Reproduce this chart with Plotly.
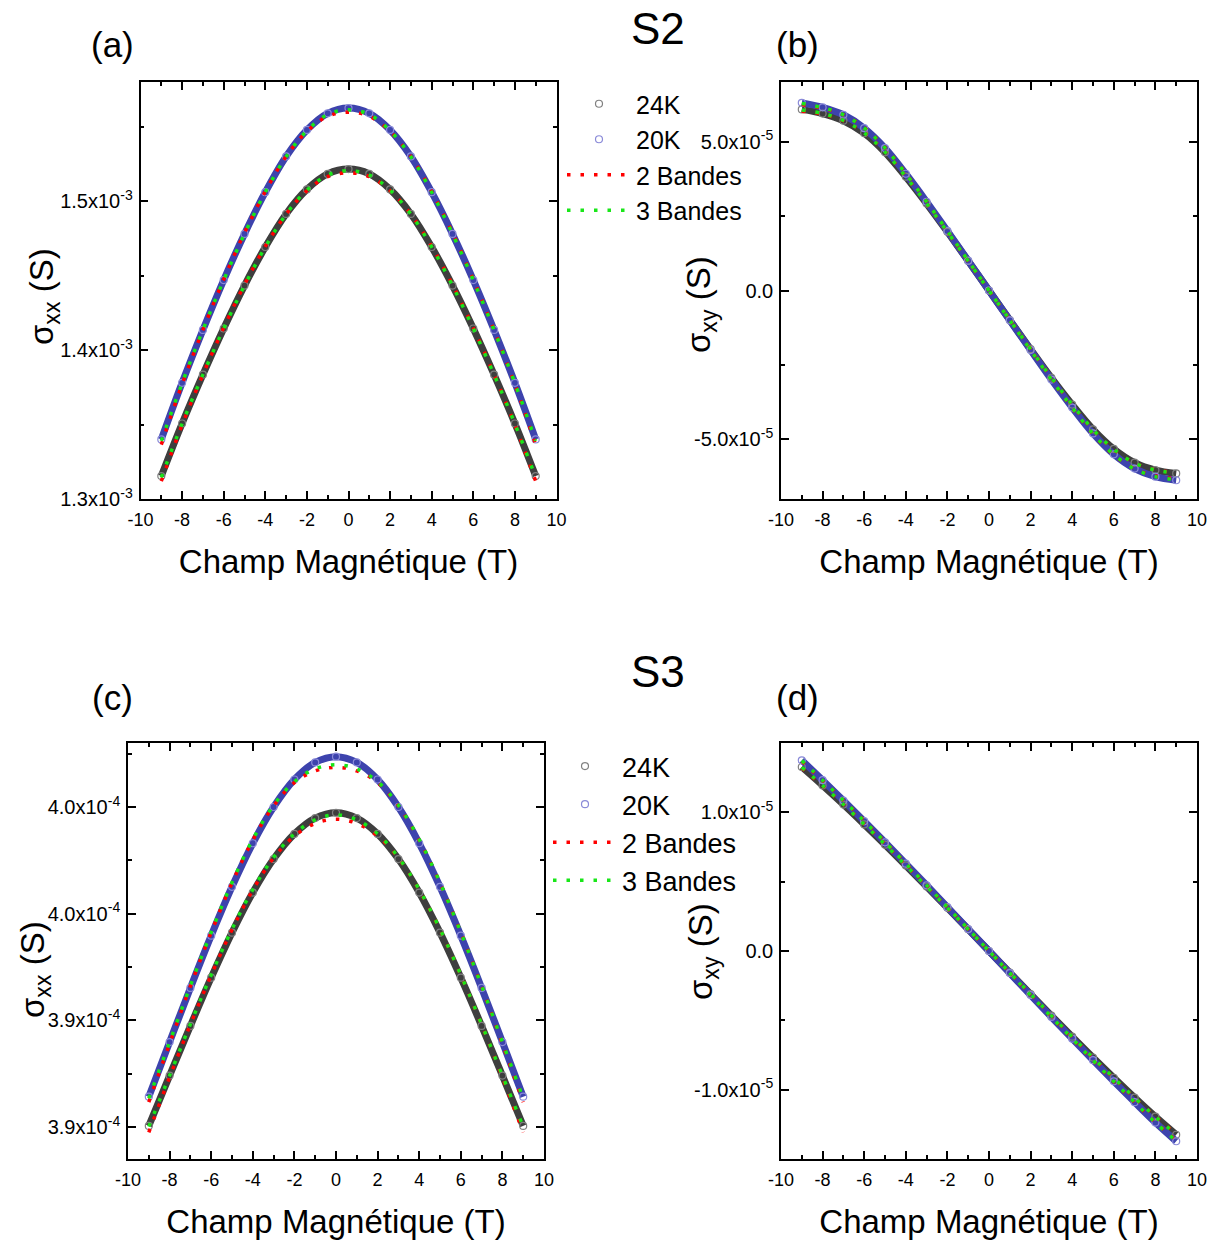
import plotly.graph_objects as go

W, H = 1217, 1243

# ---------------- data ----------------
B = [-9, -8, -7, -6, -5, -4, -3, -2, -1, 0, 1, 2, 3, 4, 5, 6, 7, 8, 9]

# S2 : sigma_xx (units of 1e-3 S)
s2xx_24K = [1.3154, 1.3507, 1.3835, 1.4145, 1.4433, 1.4692, 1.4914, 1.5079, 1.5183, 1.5215,
            1.5183, 1.5079, 1.4914, 1.4692, 1.4433, 1.4145, 1.3835, 1.3507, 1.3154]
s2xx_20K = [1.3400, 1.3780, 1.4135, 1.4470, 1.4780, 1.5060, 1.5300, 1.5478, 1.5590, 1.5625,
            1.5590, 1.5478, 1.5300, 1.5060, 1.4780, 1.4470, 1.4135, 1.3780, 1.3400]
s2xx_24K_2b = [1.3120, 1.3497, 1.3835, 1.4150, 1.4440, 1.4696, 1.4912, 1.5070, 1.5165, 1.5190,
               1.5165, 1.5070, 1.4912, 1.4696, 1.4440, 1.4150, 1.3835, 1.3497, 1.3120]
s2xx_20K_2b = [1.3365, 1.3770, 1.4135, 1.4475, 1.4788, 1.5065, 1.5300, 1.5468, 1.5570, 1.5597,
               1.5570, 1.5468, 1.5300, 1.5065, 1.4788, 1.4475, 1.4135, 1.3770, 1.3365]
s2xx_24K_3b = [1.3146, 1.3505, 1.3835, 1.4145, 1.4433, 1.4692, 1.4912, 1.5074, 1.5175, 1.5205,
               1.5175, 1.5074, 1.4912, 1.4692, 1.4433, 1.4145, 1.3835, 1.3505, 1.3146]
s2xx_20K_3b = [1.3390, 1.3778, 1.4135, 1.4470, 1.4780, 1.5060, 1.5298, 1.5473, 1.5582, 1.5613,
               1.5582, 1.5473, 1.5298, 1.5060, 1.4780, 1.4470, 1.4135, 1.3778, 1.3390]

# S2 : sigma_xy (units of 1e-5 S)
s2xy_24K = [6.08, 5.94, 5.70, 5.28, 4.64, 3.82, 2.92, 1.97, 0.99, 0.0,
            -0.99, -1.97, -2.93, -3.83, -4.66, -5.32, -5.78, -6.03, -6.14]
s2xy_20K = [6.30, 6.15, 5.90, 5.45, 4.78, 3.92, 2.98, 2.00, 1.00, 0.0,
            -1.00, -2.00, -2.99, -3.93, -4.80, -5.50, -5.98, -6.25, -6.37]
s2xy_24K_2b = [6.02, 5.92, 5.70, 5.30, 4.66, 3.83, 2.92, 1.96, 0.98, 0.0,
               -0.98, -1.96, -2.93, -3.84, -4.68, -5.34, -5.79, -6.02, -6.10]
s2xy_20K_2b = [6.24, 6.12, 5.90, 5.47, 4.80, 3.93, 2.98, 1.99, 0.99, 0.0,
               -0.99, -1.99, -2.99, -3.94, -4.82, -5.52, -5.99, -6.23, -6.32]
s2xy_24K_3b = [6.06, 5.94, 5.71, 5.29, 4.65, 3.82, 2.92, 1.97, 0.99, 0.0,
               -0.99, -1.97, -2.93, -3.83, -4.67, -5.33, -5.79, -6.03, -6.13]
s2xy_20K_3b = [6.28, 6.14, 5.90, 5.46, 4.79, 3.92, 2.98, 2.00, 1.00, 0.0,
               -1.00, -2.00, -2.99, -3.93, -4.81, -5.51, -5.99, -6.25, -6.35]

# S3 : sigma_xx (units of 1e-4 S)
s3xx_24K = [3.9005, 3.9241, 3.9474, 3.9700, 3.9911, 4.0099, 4.0256, 4.0374, 4.0448, 4.0473,
            4.0448, 4.0374, 4.0256, 4.0099, 3.9911, 3.9700, 3.9474, 3.9241, 3.9005]
s3xx_20K = [3.9142, 3.9398, 3.9652, 3.9897, 4.0126, 4.0330, 4.0500, 4.0629, 4.0709, 4.0736,
            4.0709, 4.0629, 4.0500, 4.0330, 4.0126, 3.9897, 3.9652, 3.9398, 3.9142]
s3xx_24K_2b = [3.8975, 3.9233, 3.9480, 3.9712, 3.9925, 4.0111, 4.0261, 4.0364, 4.0423, 4.0443,
               4.0423, 4.0364, 4.0261, 4.0111, 3.9925, 3.9712, 3.9480, 3.9233, 3.8975]
s3xx_20K_2b = [3.9117, 3.9390, 3.9660, 3.9912, 4.0144, 4.0345, 4.0505, 4.0614, 4.0669, 4.0686,
               4.0669, 4.0614, 4.0505, 4.0345, 4.0144, 3.9912, 3.9660, 3.9390, 3.9117]
s3xx_24K_3b = [3.9002, 3.9241, 3.9482, 3.9713, 3.9927, 4.0113, 4.0264, 4.0374, 4.0440, 4.0463,
               4.0440, 4.0374, 4.0264, 4.0113, 3.9927, 3.9713, 3.9482, 3.9241, 3.9002]
s3xx_20K_3b = [3.9134, 3.9398, 3.9662, 3.9913, 4.0146, 4.0348, 4.0508, 4.0619, 4.0679, 4.0698,
               4.0679, 4.0619, 4.0508, 4.0348, 4.0146, 3.9913, 3.9662, 3.9398, 3.9134]

# S3 : sigma_xy (units of 1e-5 S)
s3xy_24K = [1.327, 1.194, 1.056, 0.913, 0.767, 0.617, 0.465, 0.311, 0.156, 0.0,
            -0.156, -0.311, -0.466, -0.618, -0.768, -0.914, -1.057, -1.195, -1.325]
s3xy_20K = [1.375, 1.232, 1.085, 0.936, 0.784, 0.630, 0.474, 0.316, 0.158, 0.0,
            -0.159, -0.318, -0.476, -0.632, -0.787, -0.940, -1.090, -1.237, -1.372]
s3xy_24K_2b = [1.320, 1.192, 1.058, 0.916, 0.769, 0.618, 0.465, 0.311, 0.156, 0.0,
               -0.156, -0.311, -0.466, -0.619, -0.770, -0.917, -1.059, -1.193, -1.318]
s3xy_20K_2b = [1.368, 1.230, 1.087, 0.939, 0.786, 0.631, 0.474, 0.316, 0.158, 0.0,
               -0.159, -0.318, -0.476, -0.633, -0.789, -0.943, -1.092, -1.235, -1.365]
s3xy_24K_3b = [1.325, 1.194, 1.057, 0.914, 0.768, 0.617, 0.465, 0.311, 0.156, 0.0,
               -0.156, -0.311, -0.466, -0.618, -0.769, -0.915, -1.058, -1.195, -1.323]
s3xy_20K_3b = [1.373, 1.232, 1.086, 0.937, 0.785, 0.630, 0.474, 0.316, 0.158, 0.0,
               -0.159, -0.318, -0.476, -0.632, -0.788, -0.941, -1.091, -1.237, -1.370]

# tick labels
x_ticks = [-10, -8, -6, -4, -2, 0, 2, 4, 6, 8, 10]
x_ticktext = ["-10", "-8", "-6", "-4", "-2", "0", "2", "4", "6", "8", "10"]
a_tickvals = [1.3e-3, 1.4e-3, 1.5e-3]
a_ticktext = ["1.3x10<sup>-3</sup>", "1.4x10<sup>-3</sup>", "1.5x10<sup>-3</sup>"]
b_tickvals = [-5e-5, 0.0, 5e-5]
b_ticktext = ["-5.0x10<sup>-5</sup>", "0.0", "5.0x10<sup>-5</sup>"]
c_tickvals = [3.90e-4, 3.95e-4, 4.00e-4, 4.05e-4]
c_ticktext = ["3.9x10<sup>-4</sup>", "3.9x10<sup>-4</sup>", "4.0x10<sup>-4</sup>", "4.0x10<sup>-4</sup>"]
d_tickvals = [-1e-5, 0.0, 1e-5]
d_ticktext = ["-1.0x10<sup>-5</sup>", "0.0", "1.0x10<sup>-5</sup>"]

# ---------------- style ----------------
FONT = "Liberation Sans, Arial, Helvetica, sans-serif"
C24_BAND, C20_BAND = "#3e3e3e", "#3d43ad"
C24_MK, C20_MK = "#808080", "#8a8ad8"
RED, GREEN = "#ff0000", "#19e619"
DOT = "3.5px,10px"


def X(px):
    return px / W


def Y(py):
    return 1 - py / H


fig = go.Figure()


def add_panel(n, legend, show, d24, d20, r24, r20, g24, g20, unit):
    xa = "x" if n == 1 else "x%d" % n
    ya = "y" if n == 1 else "y%d" % n
    s = lambda arr: [v * unit for v in arr]
    for d, c in ((d24, C24_BAND), (d20, C20_BAND)):
        fig.add_trace(go.Scatter(x=B, y=s(d), mode="lines", line=dict(color=c, width=7, shape="spline"),
                                 showlegend=False, hoverinfo="skip", xaxis=xa, yaxis=ya))
    for d, c, name in ((d24, C24_MK, "24K"), (d20, C20_MK, "20K")):
        fig.add_trace(go.Scatter(x=B, y=s(d), mode="markers", name=name,
                                 marker=dict(symbol="circle-open", size=7, color=c, line=dict(width=1.2)),
                                 showlegend=show, legend=legend, xaxis=xa, yaxis=ya))
    for arrs, c, name in (((r24, r20), RED, "2 Bandes"), ((g24, g20), GREEN, "3 Bandes")):
        for i, d in enumerate(arrs):
            fig.add_trace(go.Scatter(x=B, y=s(d), mode="lines", name=name, legendgroup=name + legend,
                                     line=dict(color=c, width=3.5, dash=DOT, shape="spline"),
                                     showlegend=(show and i == 0), legend=legend, xaxis=xa, yaxis=ya))


add_panel(1, "legend", True, s2xx_24K, s2xx_20K, s2xx_24K_2b, s2xx_20K_2b, s2xx_24K_3b, s2xx_20K_3b, 1e-3)
add_panel(2, "legend", False, s2xy_24K, s2xy_20K, s2xy_24K_2b, s2xy_20K_2b, s2xy_24K_3b, s2xy_20K_3b, 1e-5)
add_panel(3, "legend2", True, s3xx_24K, s3xx_20K, s3xx_24K_2b, s3xx_20K_2b, s3xx_24K_3b, s3xx_20K_3b, 1e-4)
add_panel(4, "legend2", False, s3xy_24K, s3xy_20K, s3xy_24K_2b, s3xy_20K_2b, s3xy_24K_3b, s3xy_20K_3b, 1e-5)

axis_common = dict(showline=True, linecolor="black", linewidth=1.6, mirror="ticks",
                   ticks="inside", ticklen=8, tickwidth=1.5, tickcolor="black",
                   showgrid=False, zeroline=False, automargin=False)


def xaxis(domain, anchor):
    return dict(axis_common, domain=domain, anchor=anchor, range=[-10, 10],
                tickmode="array", tickvals=x_ticks, ticktext=x_ticktext, ticklabelstandoff=4,
                tickfont=dict(family=FONT, size=18, color="black"),
                minor=dict(ticks="inside", ticklen=4, tickwidth=1.5, tickcolor="black", dtick=1, tick0=-10),
                title=dict(text="Champ Magnétique (T)", font=dict(family=FONT, size=33, color="black"),
                           standoff=20))


def yaxis(domain, anchor, rng, tv, tt, minor_vals):
    return dict(axis_common, domain=domain, anchor=anchor, range=rng,
                tickmode="array", tickvals=tv, ticktext=tt, ticklabelstandoff=2,
                tickfont=dict(family=FONT, size=20, color="black"),
                minor=dict(ticks="inside", ticklen=4, tickwidth=1.5, tickcolor="black",
                           tickmode="array", tickvals=minor_vals))


xd_left1 = [X(140.5), X(556.5)]
xd_right = [X(781), X(1197)]
xd_left2 = [X(128), X(544)]
yd_top = [Y(499), Y(82)]
yd_bot = [Y(1159), Y(743)]

fig.update_layout(
    template="none",
    width=W, height=H, margin=dict(l=0, r=0, t=0, b=0, pad=0), autosize=False,
    paper_bgcolor="white", plot_bgcolor="white",
    font=dict(family=FONT, color="black"),
    xaxis=xaxis(xd_left1, "y"),
    yaxis=yaxis(yd_top, "x", [1.3e-3, 1.58e-3], a_tickvals, a_ticktext, [1.35e-3, 1.45e-3, 1.55e-3]),
    xaxis2=xaxis(xd_right, "y2"),
    yaxis2=yaxis(yd_top, "x2", [-7e-5, 7e-5], b_tickvals, b_ticktext, [-2.5e-5, 2.5e-5]),
    xaxis3=xaxis(xd_left2, "y3"),
    yaxis3=yaxis(yd_bot, "x3", [3.885e-4, 4.080e-4], c_tickvals, c_ticktext,
                 [3.925e-4, 3.975e-4, 4.025e-4, 4.075e-4]),
    xaxis4=xaxis(xd_right, "y4"),
    yaxis4=yaxis(yd_bot, "x4", [-1.5e-5, 1.5e-5], d_tickvals, d_ticktext, [-0.5e-5, 0.5e-5]),
    legend=dict(x=X(562), y=Y(81), xanchor="left", yanchor="top", bgcolor="rgba(0,0,0,0)",
                font=dict(family=FONT, size=25, color="black"), itemwidth=64, tracegroupgap=0,
                traceorder="normal", borderwidth=0),
    legend2=dict(x=X(548), y=Y(742), xanchor="left", yanchor="top", bgcolor="rgba(0,0,0,0)",
                 font=dict(family=FONT, size=27, color="black"), itemwidth=64, tracegroupgap=0,
                 traceorder="normal", borderwidth=0),
)

annotations = [
    ("S2", 658, 28, 44, 0), ("S3", 658, 672, 44, 0),
    ("(a)", 112, 44, 35, 0), ("(b)", 797, 44, 35, 0),
    ("(c)", 112, 697, 35, 0), ("(d)", 797, 697, 35, 0),
    ("σ<sub>xx</sub> (S)", 44, 297, 33, -90), ("σ<sub>xy</sub> (S)", 701, 304, 33, -90),
    ("σ<sub>xx</sub> (S)", 35, 970, 33, -90), ("σ<sub>xy</sub> (S)", 703, 952, 33, -90),
]
for text, ax_, ay_, size, ang in annotations:
    fig.add_annotation(text=text, x=X(ax_), y=Y(ay_), xref="paper", yref="paper",
                       showarrow=False, textangle=ang, xanchor="center", yanchor="middle",
                       font=dict(family=FONT, size=size, color="black"))

fig.write_html("out.html", config={"displayModeBar": False},
               post_script="document.body.style.margin='0px';")
